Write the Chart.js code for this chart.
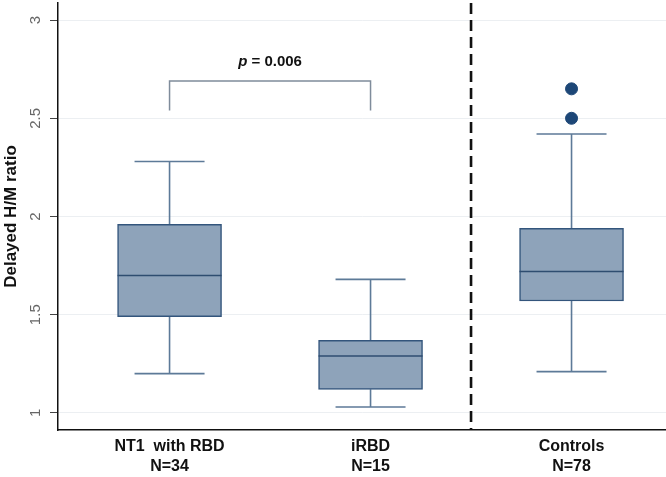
<!DOCTYPE html>
<html>
<head>
<meta charset="utf-8">
<script src="https://cdn.jsdelivr.net/npm/chart.js@4.4.1/dist/chart.umd.min.js"></script>
<style>
  html, body { margin: 0; padding: 0; background: #fff; }
  #wrap { width: 666px; height: 477px; }
</style>
</head>
<body>
<div id="wrap"><canvas id="hmChart"></canvas></div>
<script>
// groups and box statistics
const groups      = [['NT1  with RBD', 'N=34'], ['iRBD', 'N=15'], ['Controls', 'N=78']];
const groupPos    = [1, 2, 3];
const whiskerLow  = [1.20, 1.03, 1.21];
const boxLow      = [1.49, 1.12, 1.57];
const medians     = [1.70, 1.29, 1.72];
const boxHigh     = [1.96, 1.37, 1.94];
const whiskerHigh = [2.28, 1.68, 2.42];
const outlierPos    = [3, 3];
const outlierValues = [2.65, 2.50];
const yTicks      = [1, 1.5, 2, 2.5, 3];
const yLabels     = ['1', '1.5', '2', '2.5', '3'];
const pValue      = '0.006';
const bracketPos  = [1, 2];
const bracketTop  = 2.69;
const bracketFoot = 2.54;
const dividerPos  = 2.5;

const FONT = "'Liberation Sans', Arial, sans-serif";

const boxExtras = {
	id: 'boxExtras',
	beforeDatasetsDraw(chart) {
		const {ctx, scales: {x, y}} = chart;
		ctx.save();
		ctx.strokeStyle = '#5d7a98';
		ctx.lineWidth = 1.6;
		groupPos.forEach((g, i) => {
			const cx = x.getPixelForValue(g);
			const half = 35;
			ctx.beginPath();
			ctx.moveTo(cx, y.getPixelForValue(boxHigh[i]));
			ctx.lineTo(cx, y.getPixelForValue(whiskerHigh[i]));
			ctx.moveTo(cx, y.getPixelForValue(boxLow[i]));
			ctx.lineTo(cx, y.getPixelForValue(whiskerLow[i]));
			ctx.moveTo(cx - half, y.getPixelForValue(whiskerHigh[i]));
			ctx.lineTo(cx + half, y.getPixelForValue(whiskerHigh[i]));
			ctx.moveTo(cx - half, y.getPixelForValue(whiskerLow[i]));
			ctx.lineTo(cx + half, y.getPixelForValue(whiskerLow[i]));
			ctx.stroke();
		});
		ctx.restore();
	},
	afterDatasetsDraw(chart) {
		const {ctx, chartArea, scales: {x, y}} = chart;
		ctx.save();
		// medians
		ctx.strokeStyle = '#2e4d70';
		ctx.lineWidth = 1.5;
		groupPos.forEach((g, i) => {
			const cx = x.getPixelForValue(g);
			const my = y.getPixelForValue(medians[i]);
			ctx.beginPath();
			ctx.moveTo(cx - 52, my);
			ctx.lineTo(cx + 52, my);
			ctx.stroke();
		});

		// significance bracket
		const bx1 = x.getPixelForValue(bracketPos[0]);
		const bx2 = x.getPixelForValue(bracketPos[1]);
		const by = y.getPixelForValue(bracketTop);
		const bf = y.getPixelForValue(bracketFoot);
		ctx.strokeStyle = '#7f8c9b';
		ctx.lineWidth = 1.5;
		ctx.beginPath();
		ctx.moveTo(bx1, bf);
		ctx.lineTo(bx1, by);
		ctx.lineTo(bx2, by);
		ctx.lineTo(bx2, bf);
		ctx.stroke();

		// p value text
		const italic = 'italic bold 15px ' + FONT;
		const bold = 'bold 15px ' + FONT;
		const rest = ' = ' + pValue;
		ctx.font = italic;
		const w1 = ctx.measureText('p').width;
		ctx.font = bold;
		const w2 = ctx.measureText(rest).width;
		const start = (bx1 + bx2) / 2 - (w1 + w2) / 2;
		ctx.fillStyle = '#111';
		ctx.textBaseline = 'middle';
		ctx.textAlign = 'left';
		ctx.font = italic;
		ctx.fillText('p', start, by - 19);
		ctx.font = bold;
		ctx.fillText(rest, start + w1, by - 19);

		// dashed divider
		const dx = x.getPixelForValue(dividerPos);
		ctx.strokeStyle = '#111';
		ctx.lineWidth = 2.6;
		ctx.setLineDash([11, 6]);
		ctx.beginPath();
		ctx.moveTo(dx, chartArea.top);
		ctx.lineTo(dx, chartArea.bottom);
		ctx.stroke();
		ctx.restore();
	}
};

let ctx = document.getElementById('hmChart').getContext('2d');

new Chart(ctx, {
	type: 'bar',
	data: {
		datasets: [
			{
				type: 'bar',
				data: groupPos.map((g, i) => ({x: g, y: [boxLow[i], boxHigh[i]]})),
				backgroundColor: '#8ea3ba',
				borderColor: '#33557c',
				borderWidth: 1.5,
				borderSkipped: false,
				barThickness: 104
			},
			{
				type: 'scatter',
				data: outlierPos.map((g, i) => ({x: g, y: outlierValues[i]})),
				backgroundColor: '#1d4777',
				borderColor: '#1d4777',
				pointRadius: 6
			}
		]
	},
	options: {
		responsive: true,
		maintainAspectRatio: false,
		animation: false,
		layout: {autoPadding: false, padding: {top: 3, right: 0, left: 0, bottom: 0}},
		plugins: {
			legend: {display: false},
			tooltip: {enabled: false}
		},
		scales: {
			x: {
				type: 'linear',
				offset: false,
				min: 0.445,
				max: 3.47,
				afterBuildTicks: (scale) => { scale.ticks = groupPos.map(v => ({value: v})); },
				afterFit: (scale) => {
					scale.height = 47;
					scale.paddingLeft = 0;
					scale.paddingRight = 0;
				},
				grid: {display: false, drawTicks: false, tickLength: 0},
				border: {display: true, color: '#111', width: 1.5},
				ticks: {
					padding: 7,
					color: '#111',
					font: {family: FONT, size: 16, weight: 'bold', lineHeight: 1.25},
					callback: (v) => groups[groupPos.indexOf(v)]
				}
			},
			y: {
				min: 0.913,
				max: 3.087,
				afterBuildTicks: (scale) => { scale.ticks = yTicks.map(v => ({value: v})); },
				afterFit: (scale) => {
					scale.width = 58;
					scale.paddingTop = 0;
					scale.paddingBottom = 0;
				},
				grid: {color: '#eceff2', tickColor: '#444', tickLength: 8, lineWidth: 1},
				border: {display: true, color: '#111', width: 1.5},
				ticks: {
					minRotation: 90,
					maxRotation: 90,
					crossAlign: 'center',
					padding: 3.5,
					color: '#666',
					font: {family: FONT, size: 15},
					callback: (v) => yLabels[yTicks.indexOf(v)]
				},
				title: {
					display: true,
					text: 'Delayed H/M ratio',
					color: '#111',
					font: {family: FONT, size: 17, weight: 'bold'},
					padding: {top: 1, bottom: 0}
				}
			}
		}
	},
	plugins: [boxExtras]
});
</script>
</body>
</html>
